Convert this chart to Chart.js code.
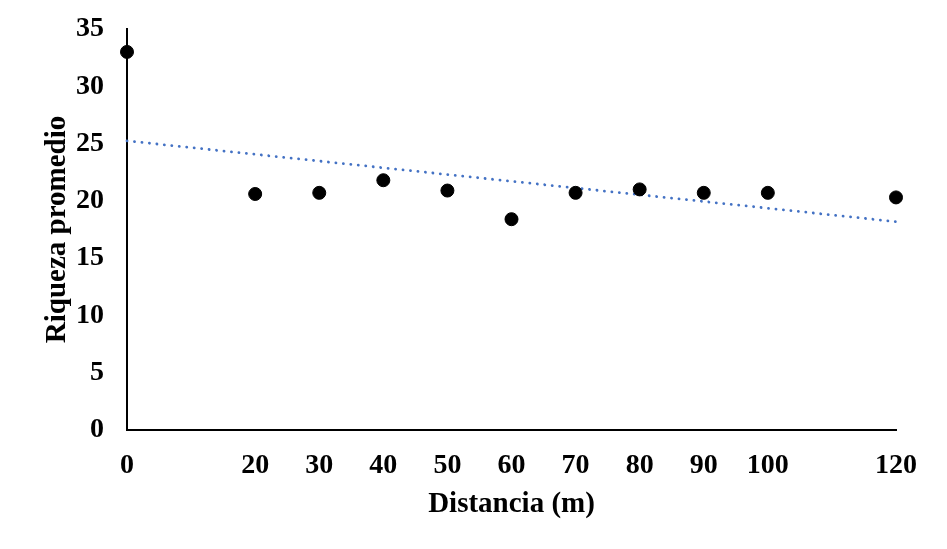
<!DOCTYPE html>
<html>
<head>
<meta charset="utf-8">
<script src="https://cdn.jsdelivr.net/npm/chart.js@4"></script>
<style>
  html, body { margin: 0; padding: 0; background: #fff; }
  #wrap { width: 947px; height: 549px; }
</style>
</head>
<body>
<div id="wrap"><canvas id="riquezaChart" width="947" height="549"></canvas></div>
<script>
// ====== DATOS ======
const distancia = [0, 20, 30, 40, 50, 60, 70, 80, 90, 100, 120];
const riqueza = [33.0, 20.6, 20.7, 21.8, 20.9, 18.4, 20.7, 21.0, 20.7, 20.7, 20.3];
const yTicks = [0, 5, 10, 15, 20, 25, 30, 35];

// ====== LINEA DE TENDENCIA (minimos cuadrados) ======
const n = distancia.length;
const mx = distancia.reduce((a, b) => a + b, 0) / n;
const my = riqueza.reduce((a, b) => a + b, 0) / n;
let sxy = 0, sxx = 0;
distancia.forEach((x, i) => {
  sxy += (x - mx) * (riqueza[i] - my);
  sxx += (x - mx) * (x - mx);
});
const pendiente = sxy / sxx;
const intercepto = my - pendiente * mx;
const xMin = distancia[0];
const xMax = distancia[n - 1];

const puntos = distancia.map((x, i) => ({ x: x, y: riqueza[i] }));
const tendencia = [
  { x: xMin, y: intercepto + pendiente * xMin },
  { x: xMax, y: intercepto + pendiente * xMax }
];

const tickFont = { family: "'Liberation Serif', 'Times New Roman', serif", size: 28, weight: "bold", lineHeight: 1 };
const titleFont = { family: "'Liberation Serif', 'Times New Roman', serif", size: 29, weight: "bold" };

// ====== GRAFICO ======
const ctx = document.getElementById("riquezaChart").getContext("2d");
new Chart(ctx, {
  type: "scatter",
  data: {
    datasets: [
      {
        label: "Riqueza",
        data: puntos,
        backgroundColor: "#000",
        borderColor: "#000",
        pointRadius: 6.5,
        pointHoverRadius: 6.5,
        clip: false,
        order: 1
      },
      {
        label: "Tendencia",
        data: tendencia,
        type: "line",
        showLine: true,
        borderColor: "#4472C4",
        borderWidth: 2.8,
        borderDash: [0.1, 7.4],
        borderCapStyle: "round",
        pointRadius: 0,
        fill: false,
        clip: false,
        order: 2
      }
    ]
  },
  options: {
    responsive: false,
    animation: false,
    layout: { padding: { top: 11, right: 51, bottom: 0, left: 0 } },
    plugins: {
      legend: { display: false },
      tooltip: { enabled: false }
    },
    scales: {
      x: {
        type: "linear",
        min: xMin,
        max: xMax,
        afterBuildTicks: (scale) => {
          scale.ticks = distancia.map(v => ({ value: v }));
        },
        afterFit: (scale) => { scale.height = 119; },
        grid: { display: false },
        border: { display: true, color: "#000", width: 2 },
        ticks: { color: "#000", font: tickFont, padding: 14, maxRotation: 0, autoSkip: false },
        title: {
          display: true,
          text: "Distancia (m)",
          color: "#000",
          font: titleFont,
          padding: { top: 0, bottom: 27 }
        }
      },
      y: {
        min: 0,
        max: 35,
        afterBuildTicks: (scale) => {
          scale.ticks = yTicks.map(v => ({ value: v }));
        },
        afterFit: (scale) => { scale.width = 127; },
        grid: { display: false },
        border: { display: true, color: "#000", width: 2 },
        ticks: { color: "#000", font: tickFont, padding: 15 },
        title: {
          display: true,
          text: "Riqueza promedio",
          color: "#000",
          font: titleFont,
          padding: { top: 40, bottom: 0 }
        }
      }
    }
  }
});
</script>
</body>
</html>
